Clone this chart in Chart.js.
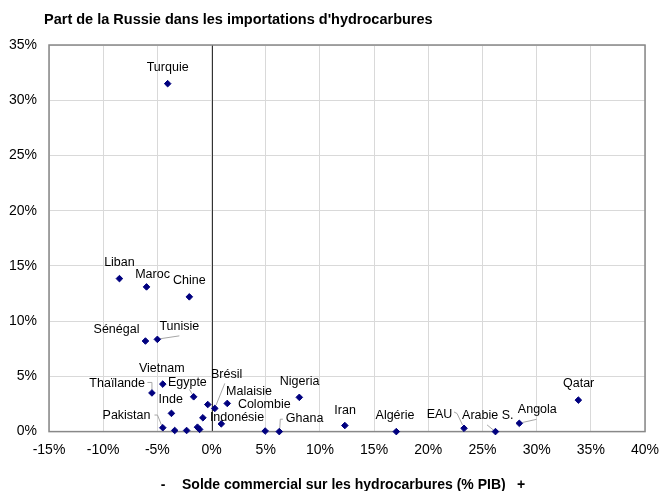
<!DOCTYPE html>
<html>
<head>
<meta charset="utf-8">
<script src="https://cdn.jsdelivr.net/npm/chart.js@4/dist/chart.umd.min.js"></script>
<style>
    html, body { margin: 0; padding: 0; background: #fff; }
    canvas { display: block; }
</style>
</head>
<body>
<canvas id="russiaShareChart" width="661" height="491"></canvas>
<script>
// Data (x: solde hydrocarbures % PIB, y: part de la Russie %)
const countries = ['Turquie', 'Liban', 'Maroc', 'Chine', 'Sénégal', 'Tunisie', 'Thaïlande', 'Vietnam',
    'Egypte', 'Inde', 'Pakistan', '', '', '', '', '', '', 'Brésil', 'Malaisie', 'Indonésie',
    'Colombie', 'Ghana', 'Nigeria', 'Iran', 'Algérie', 'EAU', 'Arabie S.', 'Angola', 'Qatar'];
const hydroBalance = [-4.05, -8.5, -6.0, -2.05, -6.1, -5.0, -5.5, -4.5,
    -1.65, -3.7, -4.5, -3.4, -2.3, -1.3, -1.1, -0.8, -0.35, 0.3, 1.45, 0.9,
    4.95, 6.25, 8.1, 12.3, 17.05, 23.3, 26.2, 28.4, 33.85];
const russiaShare = [31.5, 13.85, 13.1, 12.2, 8.2, 8.35, 3.5, 4.3,
    3.15, 1.65, 0.35, 0.1, 0.1, 0.4, 0.2, 1.25, 2.45, 2.1, 2.55, 0.7,
    0.05, 0, 3.1, 0.55, 0, 0.3, 0, 0.75, 2.85];
const xTicks = [-15, -10, -5, 0, 5, 10, 15, 20, 25, 30, 35, 40];
const yTicks = [0, 5, 10, 15, 20, 25, 30, 35];

// Label placement relative to each point (pixels)
const labelPlacement = {
    'Turquie': { dx: 0, dy: -16.5 },
    'Liban': { dx: 0, dy: -16 },
    'Maroc': { dx: 6, dy: -12 },
    'Chine': { dx: 0, dy: -16 },
    'Sénégal': { dx: -6, dy: -11, align: 'right' },
    'Tunisie': { dx: 22, dy: -13, leader: [[2, -0.5], [22, -3.5]] },
    'Thaïlande': { dx: -7, dy: -9, align: 'right', leader: [[-4.5, -10.5], [0, -10.5], [0, -3]] },
    'Vietnam': { dx: -1, dy: -15.3 },
    'Egypte': { dx: -6.3, dy: -14.7, leader: [[-4.3, -7.4], [-1, -2]] },
    'Inde': { dx: -0.7, dy: -13.6 },
    'Pakistan': { dx: -12.3, dy: -12.4, align: 'right', leader: [[-8.3, -12.7], [-5.3, -12.7], [-1.3, -2.7]] },
    'Brésil': { dx: 11.8, dy: -34.3, leader: [[10, -25], [1.3, -3.3]] },
    'Malaisie': { dx: 21.7, dy: -12.3 },
    'Indonésie': { dx: 15.7, dy: -6.5 },
    'Colombie': { dx: -0.9, dy: -27 },
    'Ghana': { dx: 25.3, dy: -13, leader: [[3.6, -12.4], [1, -12.4], [0.5, -3]] },
    'Nigeria': { dx: 0.3, dy: -15.6 },
    'Iran': { dx: 0.3, dy: -15.3 },
    'Algérie': { dx: -1.3, dy: -15.9 },
    'EAU': { dx: -24.5, dy: -13.6, leader: [[-10, -16.3], [-7, -14.8], [-1.5, -3.3]] },
    'Arabie S.': { dx: -7.7, dy: -15.9, leader: [[-8.4, -6.7], [-2, -1.5]] },
    'Angola': { dx: 18, dy: -13.3, leader: [[3, -0.8], [17.3, -4]] },
    'Qatar': { dx: 0.3, dy: -16.3 }
};

const fontFamily = '"Liberation Sans", Arial, sans-serif';

// Frame, zero line, leader lines, labels and titles
const chartDecor = {
    id: 'chartDecor',
    beforeDatasetsDraw(chart) {
        const { ctx, chartArea, scales } = chart;
        const meta = chart.getDatasetMeta(0);
        ctx.save();
        // vertical line at 0%
        const x0 = Math.round(scales.x.getPixelForValue(0)) + 0.5;
        ctx.strokeStyle = '#333333';
        ctx.lineWidth = 1;
        ctx.beginPath();
        ctx.moveTo(x0, chartArea.top);
        ctx.lineTo(x0, chartArea.bottom);
        ctx.stroke();

        ctx.strokeStyle = '#888888';
        ctx.lineWidth = 1.5;
        ctx.strokeRect(chartArea.left, chartArea.top, chartArea.right - chartArea.left, chartArea.bottom - chartArea.top);

        ctx.strokeStyle = '#a6a6a6';
        ctx.lineWidth = 1;
        meta.data.forEach((pt, i) => {
            const place = labelPlacement[countries[i]];
            if (!place || !place.leader) return;
            ctx.beginPath();
            place.leader.forEach(([lx, ly], j) => {
                if (j === 0) ctx.moveTo(pt.x + lx, pt.y + ly);
                else ctx.lineTo(pt.x + lx, pt.y + ly);
            });
            ctx.stroke();
        });
        ctx.restore();
    },
    afterDatasetsDraw(chart) {
        const { ctx } = chart;
        const meta = chart.getDatasetMeta(0);
        ctx.save();
        ctx.fillStyle = '#000';
        ctx.textBaseline = 'middle';
        ctx.font = '12.5px ' + fontFamily;
        meta.data.forEach((pt, i) => {
            const place = labelPlacement[countries[i]];
            if (!place) return;
            ctx.textAlign = place.align || 'center';
            ctx.fillText(countries[i], pt.x + place.dx, pt.y + place.dy);
        });

        ctx.font = 'bold 14.5px ' + fontFamily;
        ctx.textAlign = 'left';
        ctx.fillText("Part de la Russie dans les importations d'hydrocarbures", 44, 20);

        ctx.font = 'bold 14px ' + fontFamily;
        ctx.fillText('Solde commercial sur les hydrocarbures (% PIB)', 182, 485);
        ctx.textAlign = 'center';
        ctx.fillText('-', 163, 485);
        ctx.fillText('+', 521, 485);
        ctx.restore();
    }
};

const russiaShareChart = document.getElementById('russiaShareChart');
if (russiaShareChart) {
    new Chart(russiaShareChart, {
        type: 'scatter',
        data: {
            datasets: [{
                label: 'Part de la Russie',
                data: hydroBalance.map((x, i) => ({ x: x, y: russiaShare[i] })),
                backgroundColor: '#00007f',
                borderColor: '#00007f',
                borderWidth: 1,
                pointStyle: 'rectRot',
                pointRadius: 3.3,
                clip: false
            }]
        },
        options: {
            responsive: false,
            animation: false,
            layout: { padding: { top: 45, right: 16, left: 0, bottom: 0 } },
            plugins: {
                legend: { display: false },
                tooltip: { enabled: false }
            },
            scales: {
                x: {
                    type: 'linear',
                    min: -15,
                    max: 40,
                    afterBuildTicks: scale => { scale.ticks = xTicks.map(v => ({ value: v })); },
                    afterFit: scale => {
                        scale.height = 59.4;
                        scale.paddingLeft = 0;
                        scale.paddingRight = 0;
                    },
                    border: { display: false },
                    grid: {
                        drawTicks: false,
                        color: '#d9d9d9',
                        lineWidth: 1
                    },
                    ticks: {
                        padding: 10,
                        color: '#000',
                        font: { family: fontFamily, size: 14 },
                        callback: v => v + '%'
                    }
                },
                y: {
                    type: 'linear',
                    min: 0,
                    max: 35,
                    afterBuildTicks: scale => { scale.ticks = yTicks.map(v => ({ value: v })); },
                    afterFit: scale => {
                        scale.width = 49;
                        scale.paddingTop = 0;
                        scale.paddingBottom = 0;
                    },
                    border: { display: false },
                    grid: {
                        drawTicks: false,
                        color: '#d9d9d9',
                        lineWidth: 1
                    },
                    ticks: {
                        padding: 12,
                        color: '#000',
                        font: { family: fontFamily, size: 14 },
                        callback: v => v + '%'
                    }
                }
            }
        },
        plugins: [chartDecor]
    });
}
</script>
</body>
</html>
